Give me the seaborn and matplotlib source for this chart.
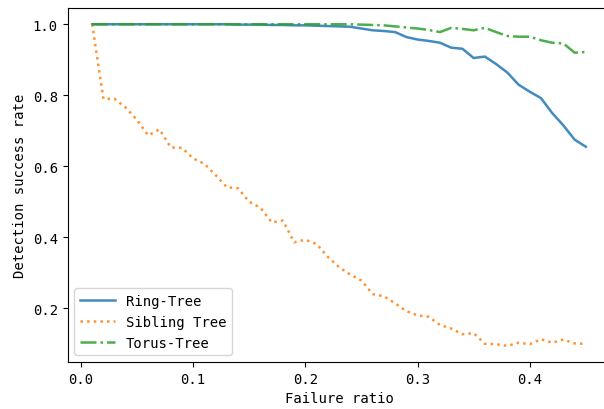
from matplotlib import pyplot as plt
import numpy as np
import pandas as pd
import seaborn as sns

# Failure ratio steps
failure_ratio = [round(0.01 * k, 2) for k in range(1, 46)]

ring_tree = [
    1.0, 1.0, 1.0, 1.0, 1.0, 1.0, 1.0, 1.0, 1.0, 1.0,
    1.0, 1.0, 1.0, 0.999, 0.999, 0.999, 0.998, 0.998, 0.997, 0.997,
    0.996, 0.995, 0.994, 0.993, 0.988, 0.983, 0.981, 0.978, 0.964, 0.957,
    0.953, 0.948, 0.934, 0.931, 0.905, 0.909, 0.888, 0.864, 0.830, 0.810,
    0.792, 0.750, 0.715, 0.675, 0.655,
]

sibling_tree = [
    1.0, 0.79, 0.79, 0.765, 0.73, 0.687, 0.704, 0.653, 0.652, 0.622,
    0.607, 0.575, 0.541, 0.538, 0.50, 0.483, 0.442, 0.447, 0.386, 0.393,
    0.381, 0.345, 0.316, 0.295, 0.278, 0.240, 0.234, 0.214, 0.192, 0.180,
    0.176, 0.153, 0.143, 0.127, 0.130, 0.100, 0.099, 0.094, 0.103, 0.099,
    0.113, 0.103, 0.112, 0.101, 0.100,
]

torus_tree = [
    1.0, 1.0, 1.0, 1.0, 1.0, 1.0, 1.0, 1.0, 1.0, 1.0,
    1.0, 1.0, 1.0, 1.0, 1.0, 1.0, 1.0, 1.0, 1.0, 1.0,
    1.0, 1.0, 1.0, 1.0, 0.999, 0.998, 0.997, 0.994, 0.991, 0.988,
    0.984, 0.978, 0.990, 0.987, 0.983, 0.990, 0.978, 0.967, 0.965, 0.965,
    0.955, 0.948, 0.946, 0.920, 0.922,
]

series = {
    'Ring-Tree': (ring_tree, '#1f77b4', '-'),
    'Sibling Tree': (sibling_tree, '#ff7f0e', ':'),
    'Torus-Tree': (torus_tree, '#2ca02c', '-.'),
}

plt.rcParams['font.family'] = ['DejaVu Sans Mono']
plt.rcParams['font.size'] = 10

fig = plt.figure(figsize=(6.04, 4.10), dpi=100)
# axes run past the right edge, as in the cropped original
ax = fig.add_axes([0.1118, 0.1146, 0.899, 0.863])

for name, (values, color, ls) in series.items():
    df = pd.DataFrame({'ratio': failure_ratio, 'rate': values})
    sns.lineplot(data=df, x='ratio', y='rate', ax=ax, label=name,
                 color=color, linestyle=ls, linewidth=1.8, alpha=0.85)

ax.set_xlabel("Failure ratio")
ax.set_ylabel("Detection success rate")
ax.set_xticks([0.0, 0.1, 0.2, 0.3, 0.4])
ax.spines['right'].set_visible(False)
ax.legend(loc='lower left', handlelength=2.5)

fig.savefig('out.png', dpi=100)
